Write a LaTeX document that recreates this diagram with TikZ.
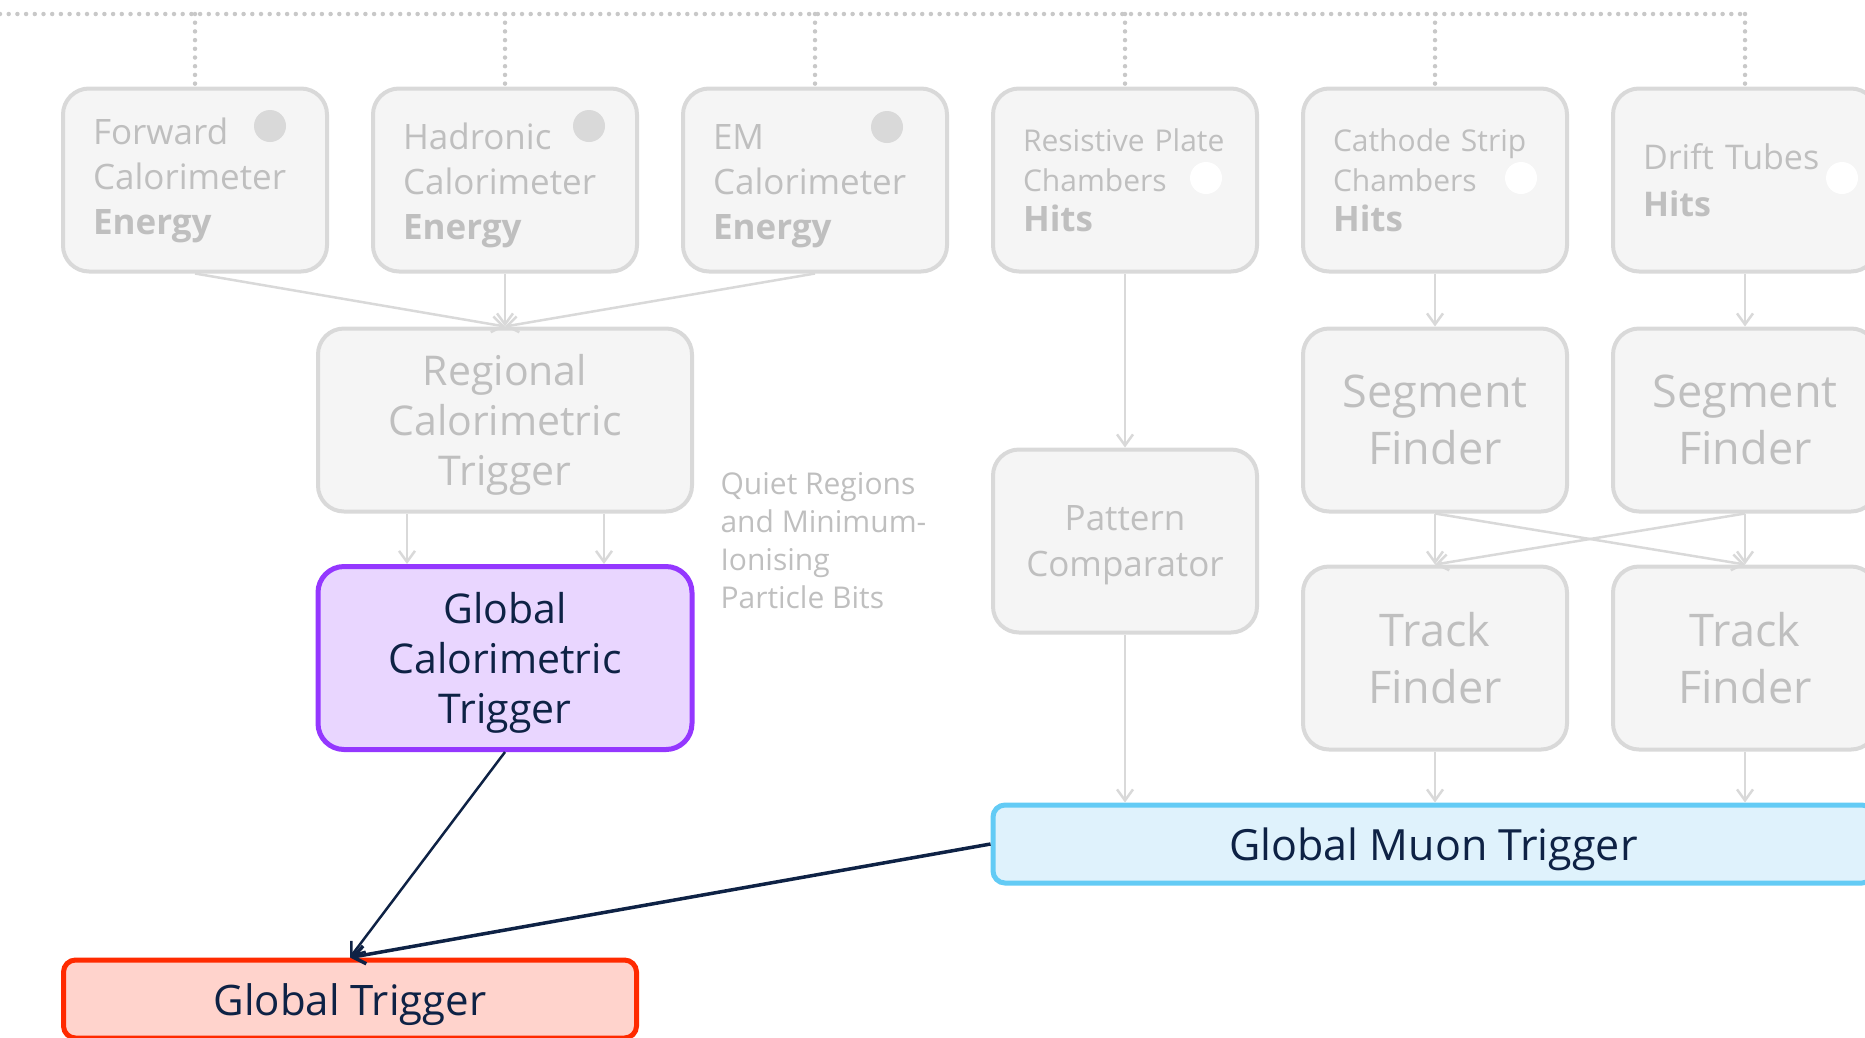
\documentclass[tikz,border=0pt]{standalone}
\usepackage{fontspec}
\setmainfont{Open Sans}
\usepackage{xcolor}
\usetikzlibrary{arrows.meta}

\definecolor{boxfill}{HTML}{F5F5F5}
\definecolor{boxline}{HTML}{D9D9D9}
\definecolor{greytext}{HTML}{BFBFBF}
\definecolor{dotgrey}{HTML}{C8C8C8}
\definecolor{navy}{HTML}{0E2245}
\definecolor{gctfill}{HTML}{E9D6FF}
\definecolor{gctline}{HTML}{9437FF}
\definecolor{gmtfill}{HTML}{DFF2FC}
\definecolor{gmtline}{HTML}{63CBF5}
\definecolor{gtfill}{HTML}{FFD3CC}
\definecolor{gtline}{HTML}{FF2A00}

\begin{document}
\begin{tikzpicture}[x=1pt,y=-1pt,>={Straight Barb[length=11pt,width=16pt]},node distance=310pt,
    grey box/.style={rectangle,rounded corners=26pt,draw=boxline,line width=4pt,
      fill=boxfill,text=greytext,minimum width=264pt,minimum height=183pt,align=center},
    src box/.style={grey box,text width=204pt,inner xsep=30pt,align=left},
    main box/.style={rectangle,line width=5pt,text=navy,align=center},
    grey line/.style={draw=boxline,line width=2.5pt},
    bus line/.style={draw=dotgrey,line width=4.5pt,dash pattern=on 0pt off 8.7pt,line cap=round},
    dark line/.style={draw=navy,line width=2.5pt,>={Straight Barb[length=12pt,width=18pt]}}]
  \useasboundingbox (0,0) rectangle (1865,1037);

  % Sources
  \node[src box,font=\fontsize{35}{45}\selectfont] (fce) at (195,180) {Forward\\Calorimeter\\\textbf{Energy}};
  \node[src box,font=\fontsize{35}{45}\selectfont] (hce) [right of=fce] {\rule{0pt}{38pt}Hadronic\\Calorimeter\\\textbf{Energy}};
  \node[src box,font=\fontsize{35}{45}\selectfont] (ecal) [right of=hce] {\rule{0pt}{38pt}EM\\Calorimeter\\\textbf{Energy}};
  \node[src box,font=\fontsize{30}{40}\selectfont] (rpc) [right of=ecal] {Resistive Plate\\Chambers\\{\fontsize{35}{40}\selectfont\textbf{Hits}}};
  \node[src box,font=\fontsize{30}{40}\selectfont] (csc) [right of=rpc] {Cathode Strip\\Chambers\\{\fontsize{35}{40}\selectfont\textbf{Hits}}};
  \node[src box,font=\fontsize{34}{47}\selectfont] (dt) [right of=csc] {Drift Tubes\\\textbf{Hits}};

  \fill[boxline] (270,126) circle (16);
  \fill[boxline] (589,126) circle (16);
  \fill[boxline] (887,127) circle (16);
  \fill[white] (1206,178) circle (16);
  \fill[white] (1521,178) circle (16);
  \fill[white] (1842,178) circle (16);

  % Processing
  \node[grey box,minimum width=374pt,font=\fontsize{41}{50}\selectfont] (rct) [below of=hce,node distance=240pt] {\rule{0pt}{40pt}Regional\\Calorimetric\\Trigger};
  \node[grey box,font=\fontsize{35}{46}\selectfont] (pc) [below of=rpc,node distance=361pt] {\rule{0pt}{34pt}Pattern\\Comparator};
  \node[grey box,font=\fontsize{45}{57}\selectfont] (seg1) [below of=csc,node distance=240pt] {Segment\\Finder};
  \node[grey box,font=\fontsize{45}{57}\selectfont] (seg2) [below of=dt,node distance=240pt] {Segment\\Finder};
  \node[grey box,font=\fontsize{45}{57}\selectfont] (trk1) [below of=seg1,node distance=238pt] {Track\\Finder};
  \node[grey box,font=\fontsize{45}{57}\selectfont] (trk2) [below of=seg2,node distance=238pt] {Track\\Finder};

  \node[font=\fontsize{30}{38}\selectfont,text=greytext,align=left,anchor=west] (note) at (717,541)
    {Quiet Regions\\and Minimum-\\Ionising\\Particle Bits};

  % Global triggers
  \node[main box,draw=gctline,fill=gctfill,rounded corners=26pt,minimum width=374pt,minimum height=183pt,
    font=\fontsize{41}{50}\selectfont] (gct) [below of=rct,node distance=238pt] {\rule{0pt}{40pt}Global\\Calorimetric\\Trigger};
  \node[main box,draw=gmtline,fill=gmtfill,rounded corners=12pt,minimum width=881pt,minimum height=78pt,
    text height=40pt,text depth=8pt,font=\fontsize{43}{50}\selectfont] (gmt) at (1433.5,844) {Global Muon Trigger};
  \node[main box,draw=gtline,fill=gtfill,rounded corners=12pt,minimum width=573pt,minimum height=78pt,
    text height=40pt,text depth=8pt,font=\fontsize{42}{50}\selectfont] (gt) at (350,999) {Global Trigger};

  % Bus
  \coordinate (bus) at (0,14);
  \draw[bus line] (bus) -- (dt.north |- bus);
  \foreach \n in {fce,hce,ecal,rpc,csc,dt}
    \draw[bus line] (\n.north |- bus) -- (\n.north);

  % Edges
  \draw[grey line,->] (fce.south) -- (rct.north);
  \draw[grey line,->] (hce.south) -- (rct.north);
  \draw[grey line,->] (ecal.south) -- (rct.north);
  \draw[grey line,->] ([xshift=-98pt]rct.south) -- ([xshift=-98pt]gct.north);
  \draw[grey line,->] ([xshift=99pt]rct.south) -- ([xshift=99pt]gct.north);
  \draw[grey line,->] (rpc.south) -- (pc.north);
  \draw[grey line,->] (csc.south) -- (seg1.north);
  \draw[grey line,->] (dt.south) -- (seg2.north);
  \draw[grey line,->] (seg1.south) -- (trk1.north);
  \draw[grey line,->] (seg1.south) -- (trk2.north);
  \draw[grey line,->] (seg2.south) -- (trk1.north);
  \draw[grey line,->] (seg2.south) -- (trk2.north);
  \draw[grey line,->] (pc.south) -- (pc.south |- gmt.north);
  \draw[grey line,->] (trk1.south) -- (trk1.south |- gmt.north);
  \draw[grey line,->] (trk2.south) -- (trk2.south |- gmt.north);

  \draw[dark line,->] (gct.south) -- (gt.north);
  \draw[dark line,line width=3.5pt,->] (gmt.west) -- (gt.north);
\end{tikzpicture}
\end{document}
